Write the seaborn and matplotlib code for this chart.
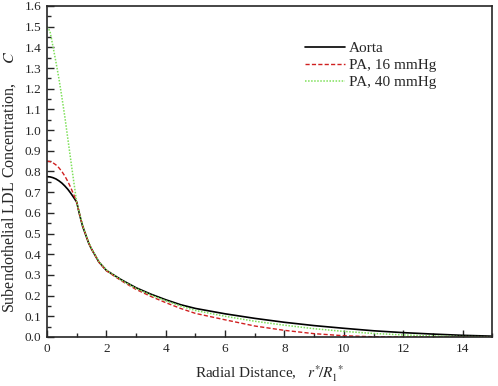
import numpy as np
import pandas as pd
import matplotlib
matplotlib.use("Agg")
import matplotlib.pyplot as plt
from matplotlib.ticker import MultipleLocator, FormatStrFormatter
import seaborn as sns

# Data
radial = [0.0, 0.1, 0.2, 0.3, 0.4, 0.5, 0.6, 0.7, 0.8, 0.9, 1.0,
          1.1, 1.2, 1.3, 1.4, 1.5, 1.75, 2.0, 2.5, 3.0, 3.5, 4.0, 4.5, 5.0,
          6.0, 7.0, 8.0, 9.0, 10.0, 11.0, 12.0, 13.0, 14.0, 15.0]
aorta = [0.775, 0.774, 0.770, 0.764, 0.755, 0.744, 0.730, 0.714, 0.695, 0.674, 0.652,
         0.590, 0.535, 0.495, 0.455, 0.425, 0.362, 0.322, 0.277, 0.238, 0.207, 0.180, 0.156, 0.138,
         0.112, 0.090, 0.071, 0.055, 0.042, 0.030, 0.021, 0.014, 0.008, 0.004]
pa16 = [0.850, 0.848, 0.842, 0.832, 0.818, 0.800, 0.778, 0.752, 0.722, 0.688, 0.652,
        0.592, 0.537, 0.496, 0.456, 0.425, 0.361, 0.320, 0.272, 0.230, 0.196, 0.166, 0.138, 0.114,
        0.083, 0.053, 0.032, 0.016, 0.006, 0.001, 0.0, 0.0, 0.0, 0.0]
pa40 = [1.500, 1.478, 1.405, 1.330, 1.250, 1.160, 1.065, 0.960, 0.855, 0.752, 0.652,
        0.595, 0.540, 0.498, 0.458, 0.427, 0.364, 0.324, 0.275, 0.235, 0.203, 0.175, 0.150, 0.128,
        0.100, 0.076, 0.057, 0.040, 0.027, 0.017, 0.010, 0.005, 0.002, 0.001]
series_names = ["Aorta", "PA, 16 mmHg", "PA, 40 mmHg"]
y_ticks = [round(0.1 * i, 1) for i in range(17)]
x_ticks = [0, 2, 4, 6, 8, 10, 12, 14]

sns.set_style("ticks")
plt.rcParams['font.family'] = ['Liberation Serif', 'DejaVu Serif']
plt.rcParams['mathtext.fontset'] = 'stix'

fig = plt.figure(figsize=(4.98, 3.86), dpi=100)
ax = fig.add_axes([0.0944, 0.127, 0.894, 0.8575])

df = pd.DataFrame({"r": radial * 3,
                   "C": aorta + pa16 + pa40,
                   "series": sum([[n] * len(radial) for n in series_names], [])})

colors = {"Aorta": "#000000", "PA, 16 mmHg": "#d02020", "PA, 40 mmHg": "#7ee05a"}
styles = {"Aorta": "-", "PA, 16 mmHg": (0, (3, 1.6)), "PA, 40 mmHg": (0, (1, 1))}
widths = {"Aorta": 1.2, "PA, 16 mmHg": 1.0, "PA, 40 mmHg": 1.1}
for name in series_names:
    sub = df[df["series"] == name]
    sns.lineplot(data=sub, x="r", y="C", ax=ax, color=colors[name],
                 linestyle=styles[name], linewidth=widths[name], label=name,
                 estimator=None, sort=False)

ax.set_xlim(0, 15)
ax.set_ylim(0, 1.6)
ax.set_xticks(x_ticks)
ax.set_yticks(y_ticks)
ax.xaxis.set_minor_locator(MultipleLocator(1))
ax.yaxis.set_minor_locator(MultipleLocator(0.05))
ax.yaxis.set_major_formatter(FormatStrFormatter("%.1f"))
ax.tick_params(which="major", direction="in", length=5, width=1, labelsize=9.5,
               top=False, right=False, pad=4)
ax.tick_params(which="minor", direction="in", length=3, width=1, top=False, right=False)
for s in ax.spines.values():
    s.set_linewidth(1.2)
    s.set_visible(True)

ax.set_xlabel(r"Radial Distance,   $r^{*}\!/R_{1}^{\ *}$", fontsize=11, labelpad=6)
ax.set_ylabel(r"Subendothelial LDL Concentration,     $C$", fontsize=11.5)
ax.yaxis.set_label_coords(-0.066, 0.47)

leg = ax.legend(loc="upper left", bbox_to_anchor=(0.555, 0.925), frameon=False,
                fontsize=11, handlelength=2.6, handletextpad=0.3, labelspacing=0.22,
                borderpad=0.2)

fig.savefig("out.png", dpi=100)
